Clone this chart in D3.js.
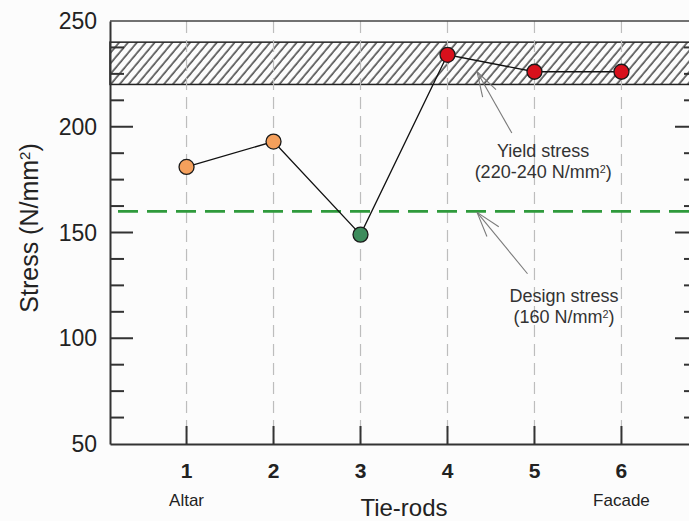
<!DOCTYPE html>
<html>
<head>
<meta charset="utf-8">
<script src="https://cdn.jsdelivr.net/npm/d3@7"></script>
<style>
  body { margin: 0; background: #fcfcfc; }
  svg { display: block; font-family: "Liberation Sans", Arial, sans-serif; }
</style>
</head>
<body>
<div id="chart"></div>
<script>
// data
var rods = [1, 2, 3, 4, 5, 6];
var stress = [181, 193, 149, 234, 226, 226];
var yTicks = [50, 100, 150, 200, 250];
var endRods = [1, 6];
var endNames = ["Altar", "Facade"];
var designStress = 160;
var yieldBand = [220, 240];

var W = 689, H = 521;
var svg = d3.select("#chart").append("svg")
    .attr("width", W)
    .attr("height", H);

var x = d3.scaleLinear().domain([0.12, 6.88]).range([110, 698]);
var y = d3.scaleLinear().domain([50, 250]).range([444, 21]);

// hatch pattern for the yield band
var defs = svg.append("defs");
defs.append("pattern")
    .attr("id", "hatch")
    .attr("patternUnits", "userSpaceOnUse")
    .attr("width", 6.8).attr("height", 10)
    .attr("patternTransform", "rotate(40)")
  .append("line")
    .attr("x1", 3).attr("y1", 0).attr("x2", 3).attr("y2", 10)
    .attr("stroke", "#111").attr("stroke-width", 1.2);

// yield band
svg.append("rect")
    .attr("x", x(0.12))
    .attr("y", y(yieldBand[1]))
    .attr("width", x(6.88) - x(0.12))
    .attr("height", y(yieldBand[0]) - y(yieldBand[1]))
    .attr("fill", "url(#hatch)")
    .attr("stroke", "#222")
    .attr("stroke-width", 1.5);

// vertical dashed grid
svg.selectAll("line.grid")
    .data(rods)
    .enter().append("line")
    .attr("class", "grid")
    .attr("x1", function(d) { return x(d); })
    .attr("x2", function(d) { return x(d); })
    .attr("y1", y(250))
    .attr("y2", y(50))
    .attr("stroke", "#bdbdbd")
    .attr("stroke-width", 1.2)
    .attr("stroke-dasharray", "12,7");

// design stress line
svg.append("line")
    .attr("x1", x(0.12) + 8)
    .attr("x2", x(6.88))
    .attr("y1", y(designStress))
    .attr("y2", y(designStress))
    .attr("stroke", "#2f9a3c")
    .attr("stroke-width", 2.6)
    .attr("stroke-dasharray", "20,9");

// frame: top line, left/right axes, bottom axis
var axisCol = "#333";
svg.append("line")
    .attr("x1", x(0.12)).attr("x2", x(6.88))
    .attr("y1", y(250)).attr("y2", y(250))
    .attr("stroke", "#444").attr("stroke-width", 1.5);

svg.append("g")
    .attr("transform", "translate(" + x(0.12) + ",0)")
    .call(d3.axisLeft(y).tickValues([]).tickSize(0))
    .call(function(g) { g.select(".domain").attr("stroke", axisCol).attr("stroke-width", 2); });

svg.append("g")
    .attr("transform", "translate(" + x(6.88) + ",0)")
    .call(d3.axisRight(y).tickValues([]).tickSize(0))
    .call(function(g) { g.select(".domain").attr("stroke", axisCol).attr("stroke-width", 2); });

svg.append("g")
    .attr("transform", "translate(0," + y(50) + ")")
    .call(d3.axisBottom(x).tickValues(rods).tickSize(0).tickFormat(""))
    .call(function(g) { g.select(".domain").attr("stroke", axisCol).attr("stroke-width", 2); });

// inward y ticks, both sides (minor every 12.5)
var yt = d3.range(62.5, 250, 12.5);
function tickLen(v) { return v % 50 === 0 ? 23 : 14; }
svg.selectAll("line.ytl")
    .data(yt)
    .enter().append("line")
    .attr("class", "ytl")
    .attr("x1", x(0.12))
    .attr("x2", function(d) { return x(0.12) + tickLen(d); })
    .attr("y1", function(d) { return y(d); })
    .attr("y2", function(d) { return y(d); })
    .attr("stroke", axisCol).attr("stroke-width", 2);
svg.selectAll("line.ytr")
    .data(yt)
    .enter().append("line")
    .attr("class", "ytr")
    .attr("x1", x(6.88))
    .attr("x2", function(d) { return x(6.88) - tickLen(d); })
    .attr("y1", function(d) { return y(d); })
    .attr("y2", function(d) { return y(d); })
    .attr("stroke", axisCol).attr("stroke-width", 2);

// inward x ticks
svg.selectAll("line.xt")
    .data(rods)
    .enter().append("line")
    .attr("class", "xt")
    .attr("x1", function(d) { return x(d); })
    .attr("x2", function(d) { return x(d); })
    .attr("y1", y(50))
    .attr("y2", y(50) - 18)
    .attr("stroke", axisCol).attr("stroke-width", 2);

// y tick labels
svg.selectAll("text.ylab")
    .data(yTicks)
    .enter().append("text")
    .attr("class", "ylab")
    .attr("x", 97)
    .attr("y", function(d) { return y(d) + 8; })
    .attr("text-anchor", "end")
    .attr("font-size", 23)
    .attr("fill", "#222")
    .text(function(d) { return d; });

// x tick labels
svg.selectAll("text.xlab")
    .data(rods)
    .enter().append("text")
    .attr("class", "xlab")
    .attr("x", function(d) { return x(d); })
    .attr("y", 478)
    .attr("text-anchor", "middle")
    .attr("font-size", 21)
    .attr("font-weight", "bold")
    .attr("fill", "#222")
    .text(function(d) { return d; });

svg.selectAll("text.endlab")
    .data(endRods)
    .enter().append("text")
    .attr("class", "endlab")
    .attr("x", function(d) { return x(d); })
    .attr("y", 506)
    .attr("text-anchor", "middle")
    .attr("font-size", 17)
    .attr("fill", "#222")
    .text(function(d, i) { return endNames[i]; });

// axis titles
svg.append("text")
    .attr("x", 404)
    .attr("y", 516)
    .attr("text-anchor", "middle")
    .attr("font-size", 24)
    .attr("fill", "#222")
    .text("Tie-rods");

var yt2 = svg.append("text")
    .attr("transform", "translate(38,228) rotate(-90)")
    .attr("text-anchor", "middle")
    .attr("font-size", 25)
    .attr("fill", "#222");
yt2.append("tspan").text("Stress (N/mm");
yt2.append("tspan").attr("dy", "-0.55em").attr("font-size", "0.6em").text("2");
yt2.append("tspan").attr("dy", "0.33em").text(")");

// annotations with open arrowheads
var annCol = "#7a7a7a";
function arrow(x0, y0, x1, y1) {
    var tail = [x(x0), y(y0)], tip = [x(x1), y(y1)];
    var a = Math.atan2(tail[1] - tip[1], tail[0] - tip[0]);
    var len = 26, spread = 0.3;
    svg.append("line")
        .attr("x1", tail[0]).attr("y1", tail[1])
        .attr("x2", tip[0]).attr("y2", tip[1])
        .attr("stroke", annCol).attr("stroke-width", 1.1);
    [-spread, spread].forEach(function(s) {
        svg.append("line")
            .attr("x1", tip[0]).attr("y1", tip[1])
            .attr("x2", tip[0] + len * Math.cos(a + s))
            .attr("y2", tip[1] + len * Math.sin(a + s))
            .attr("stroke", annCol).attr("stroke-width", 1.1);
    });
}
arrow(4.74, 197, 4.34, 226);
arrow(4.92, 130.5, 4.34, 159.5);

function note(cx, v1, v2, line1, line2) {
    svg.append("text")
        .attr("x", x(cx)).attr("y", y(v1))
        .attr("text-anchor", "middle")
        .attr("font-size", 18).attr("fill", "#333")
        .text(line1);
    var t = svg.append("text")
        .attr("x", x(cx)).attr("y", y(v2))
        .attr("text-anchor", "middle")
        .attr("font-size", 18).attr("fill", "#333");
    t.append("tspan").text(line2);
    t.append("tspan").attr("dy", "-0.5em").attr("font-size", "0.6em").text("2");
    t.append("tspan").attr("dy", "0.3em").text(")");
}
note(5.1, 185.7, 175.8, "Yield stress", "(220-240 N/mm");
note(5.34, 117, 107, "Design stress", "(160 N/mm");

// data line and markers
var pts = rods.map(function(r, i) { return { rod: r, v: stress[i] }; });
svg.append("path")
    .datum(pts)
    .attr("fill", "none")
    .attr("stroke", "#111")
    .attr("stroke-width", 1.3)
    .attr("d", d3.line().x(function(d) { return x(d.rod); }).y(function(d) { return y(d.v); }));

function markerColour(v) {
    if (v >= yieldBand[0]) return "#d8101c";
    if (v < designStress) return "#3d8c5c";
    return "#f5a05c";
}
svg.selectAll("circle.pt")
    .data(pts)
    .enter().append("circle")
    .attr("class", "pt")
    .attr("cx", function(d) { return x(d.rod); })
    .attr("cy", function(d) { return y(d.v); })
    .attr("r", 7.5)
    .attr("fill", function(d) { return markerColour(d.v); })
    .attr("stroke", "#1a1a1a")
    .attr("stroke-width", 1.3);
</script>
</body>
</html>
